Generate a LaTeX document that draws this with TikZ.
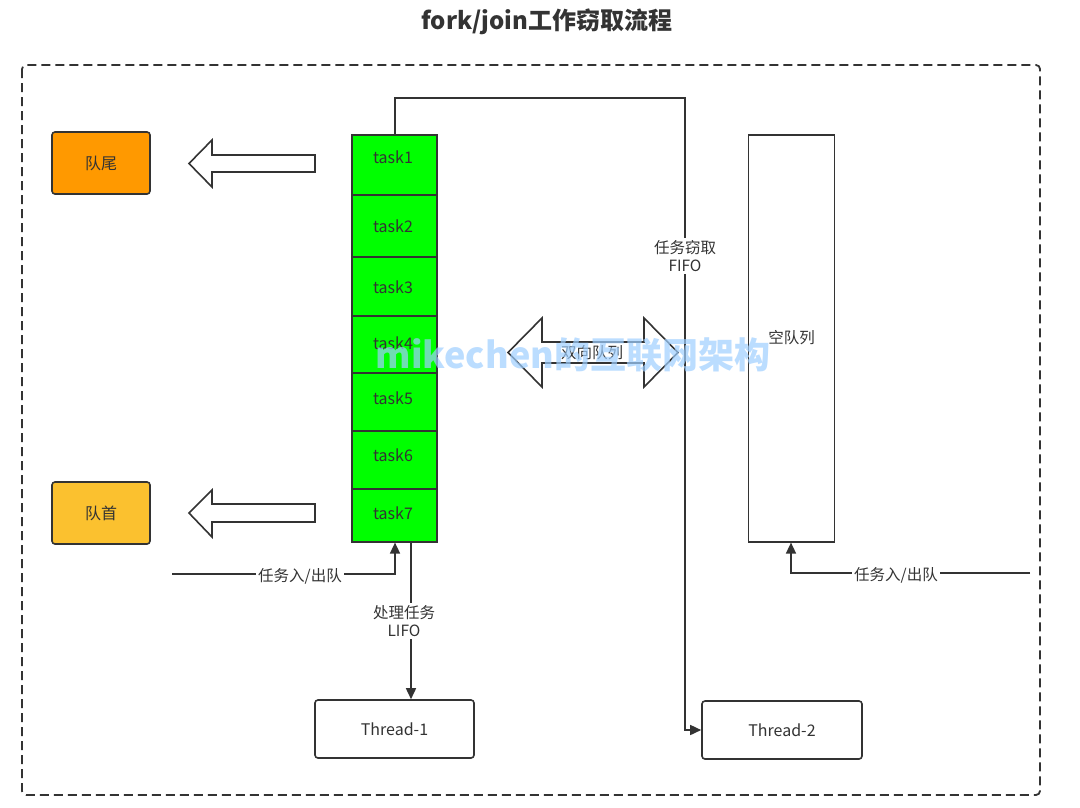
\documentclass[tikz,border=0pt]{standalone}
\usepackage{fontspec}
\setmainfont{Noto Sans CJK SC}
\usetikzlibrary{arrows.meta}
\definecolor{ink}{HTML}{333333}
\definecolor{tailc}{HTML}{FF9900}
\definecolor{headc}{HTML}{FBC12F}
\definecolor{taskg}{HTML}{00FF00}
\definecolor{wmark}{HTML}{9FCFFF}
\tikzset{
  lbl/.style={text=ink, font=\fontsize{15.5}{18}\selectfont, inner sep=1pt},
  box/.style={draw=ink, line width=1.6pt, rounded corners=3pt, text=ink, font=\fontsize{16}{18}\selectfont, inner sep=0pt},
  taskbox/.style={draw=ink, line width=1.6pt, fill=taskg, inner sep=0pt, minimum width=85pt},
  tasktxt/.style={text=ink, font=\fontsize{16}{18}\selectfont, inner sep=0pt},
  conn/.style={draw=ink, line width=1.6pt},
  tip/.style={-{Triangle[length=11pt,width=10pt]}},
  blockarrow/.style={draw=ink, line width=1.6pt, fill=white, line join=miter},
  onwhite/.style={lbl, fill=white, align=center, inner sep=2pt}
}
\begin{document}
\begin{tikzpicture}[x=1pt,y=-1pt]
\useasboundingbox (0,0) rectangle (1080,807);
\fill[white] (0,0) rectangle (1080,807);

% title
\node[text=ink, font=\fontsize{24}{26}\selectfont\bfseries] (title) at (547,22) {fork/join工作窃取流程};

% dashed frame
\draw[ink, line width=1.8pt, dash pattern=on 9pt off 5pt, rounded corners=4pt] (22,65) rectangle (1040,795);

% queue end labels
\node[box, fill=tailc, minimum width=98pt, minimum height=62pt] (tail) at (101,163) {队尾};
\node[box, fill=headc, minimum width=98pt, minimum height=62pt] (head) at (101,513) {队首};

% hollow left arrows
\draw[blockarrow] (315,155) -- (212,155) -- (212,140) -- (189,163.5) -- (212,187) -- (212,172) -- (315,172) -- cycle;
\draw[blockarrow] (315,504) -- (212,504) -- (212,490) -- (189,513) -- (212,537) -- (212,522) -- (315,522) -- cycle;

% task stack
\node[taskbox, minimum height=60pt, anchor=north] (t1) at (394.5,134) {};
\node[taskbox, minimum height=62pt, anchor=north] (t2) at (394.5,194) {};
\node[taskbox, minimum height=59pt, anchor=north] (t3) at (394.5,256) {};
\node[taskbox, minimum height=57pt, anchor=north] (t4) at (394.5,315) {};
\node[taskbox, minimum height=58pt, anchor=north] (t5) at (394.5,372) {};
\node[taskbox, minimum height=58pt, anchor=north] (t6) at (394.5,430) {};
\node[taskbox, minimum height=53pt, anchor=north] (t7) at (394.5,488) {};
\node[tasktxt] (t1t) at (393,157) {task1};
\node[tasktxt] (t2t) at (393,226) {task2};
\node[tasktxt] (t3t) at (393,287) {task3};
\node[tasktxt] (t4t) at (393,343) {task4};
\node[tasktxt] (t5t) at (393,398) {task5};
\node[tasktxt] (t6t) at (393,455) {task6};
\node[tasktxt] (t7t) at (393,513) {task7};

% empty queue
\node[draw=ink, line width=1.6pt, minimum width=86pt, minimum height=407pt, anchor=north, inner sep=0pt] (eq) at (791.5,134) {};
\node[lbl] (eqt) at (791.5,338) {空队列};

% threads
\node[box, minimum width=159pt, minimum height=58pt] (th1) at (394.5,729) {Thread-1};
\node[box, minimum width=160pt, minimum height=58pt] (th2) at (782,730) {Thread-2};

% double arrow
\draw[blockarrow] (542,342) -- (644,342) -- (644,318) -- (678,352.5) -- (644,387) -- (644,363) -- (542,363) -- (542,387) -- (508,352.5) -- (542,318) -- cycle;
\node[lbl] (dq) at (592,352.5) {双向队列};

% steal connector
\coordinate (s1) at (395,98);
\coordinate (s2) at (685,98);
\draw[conn, tip] (t1.north -| s1) -- (s1) -- (s2) -- (th2.west -| s2) -- (th2.west);
\node[onwhite] (stl) at (685,256) {任务窃取\\FIFO};

% process connector
\coordinate (p1) at (411,541);
\draw[conn, tip] (p1) -- (th1.north -| p1);
\node[onwhite] (prc) at (404,621) {处理任务\\LIFO};

% left push/pop
\coordinate (l0) at (172,574);
\coordinate (l1) at (395,574);
\draw[conn, tip] (l0) -- (l1) -- (t7.south -| l1);
\node[onwhite] (lp) at (300,576) {任务入/出队};

% right push/pop
\coordinate (r0) at (1030,573);
\coordinate (r1) at (791,573);
\draw[conn, tip] (r0) -- (r1) -- (eq.south -| r1);
\node[onwhite] (rp) at (896,575) {任务入/出队};

% watermark
\node[text=wmark, opacity=0.7, font=\fontsize{36}{38}\selectfont\bfseries] (wm) at (573,355) {mikechen的互联网架构};
\end{tikzpicture}
\end{document}
